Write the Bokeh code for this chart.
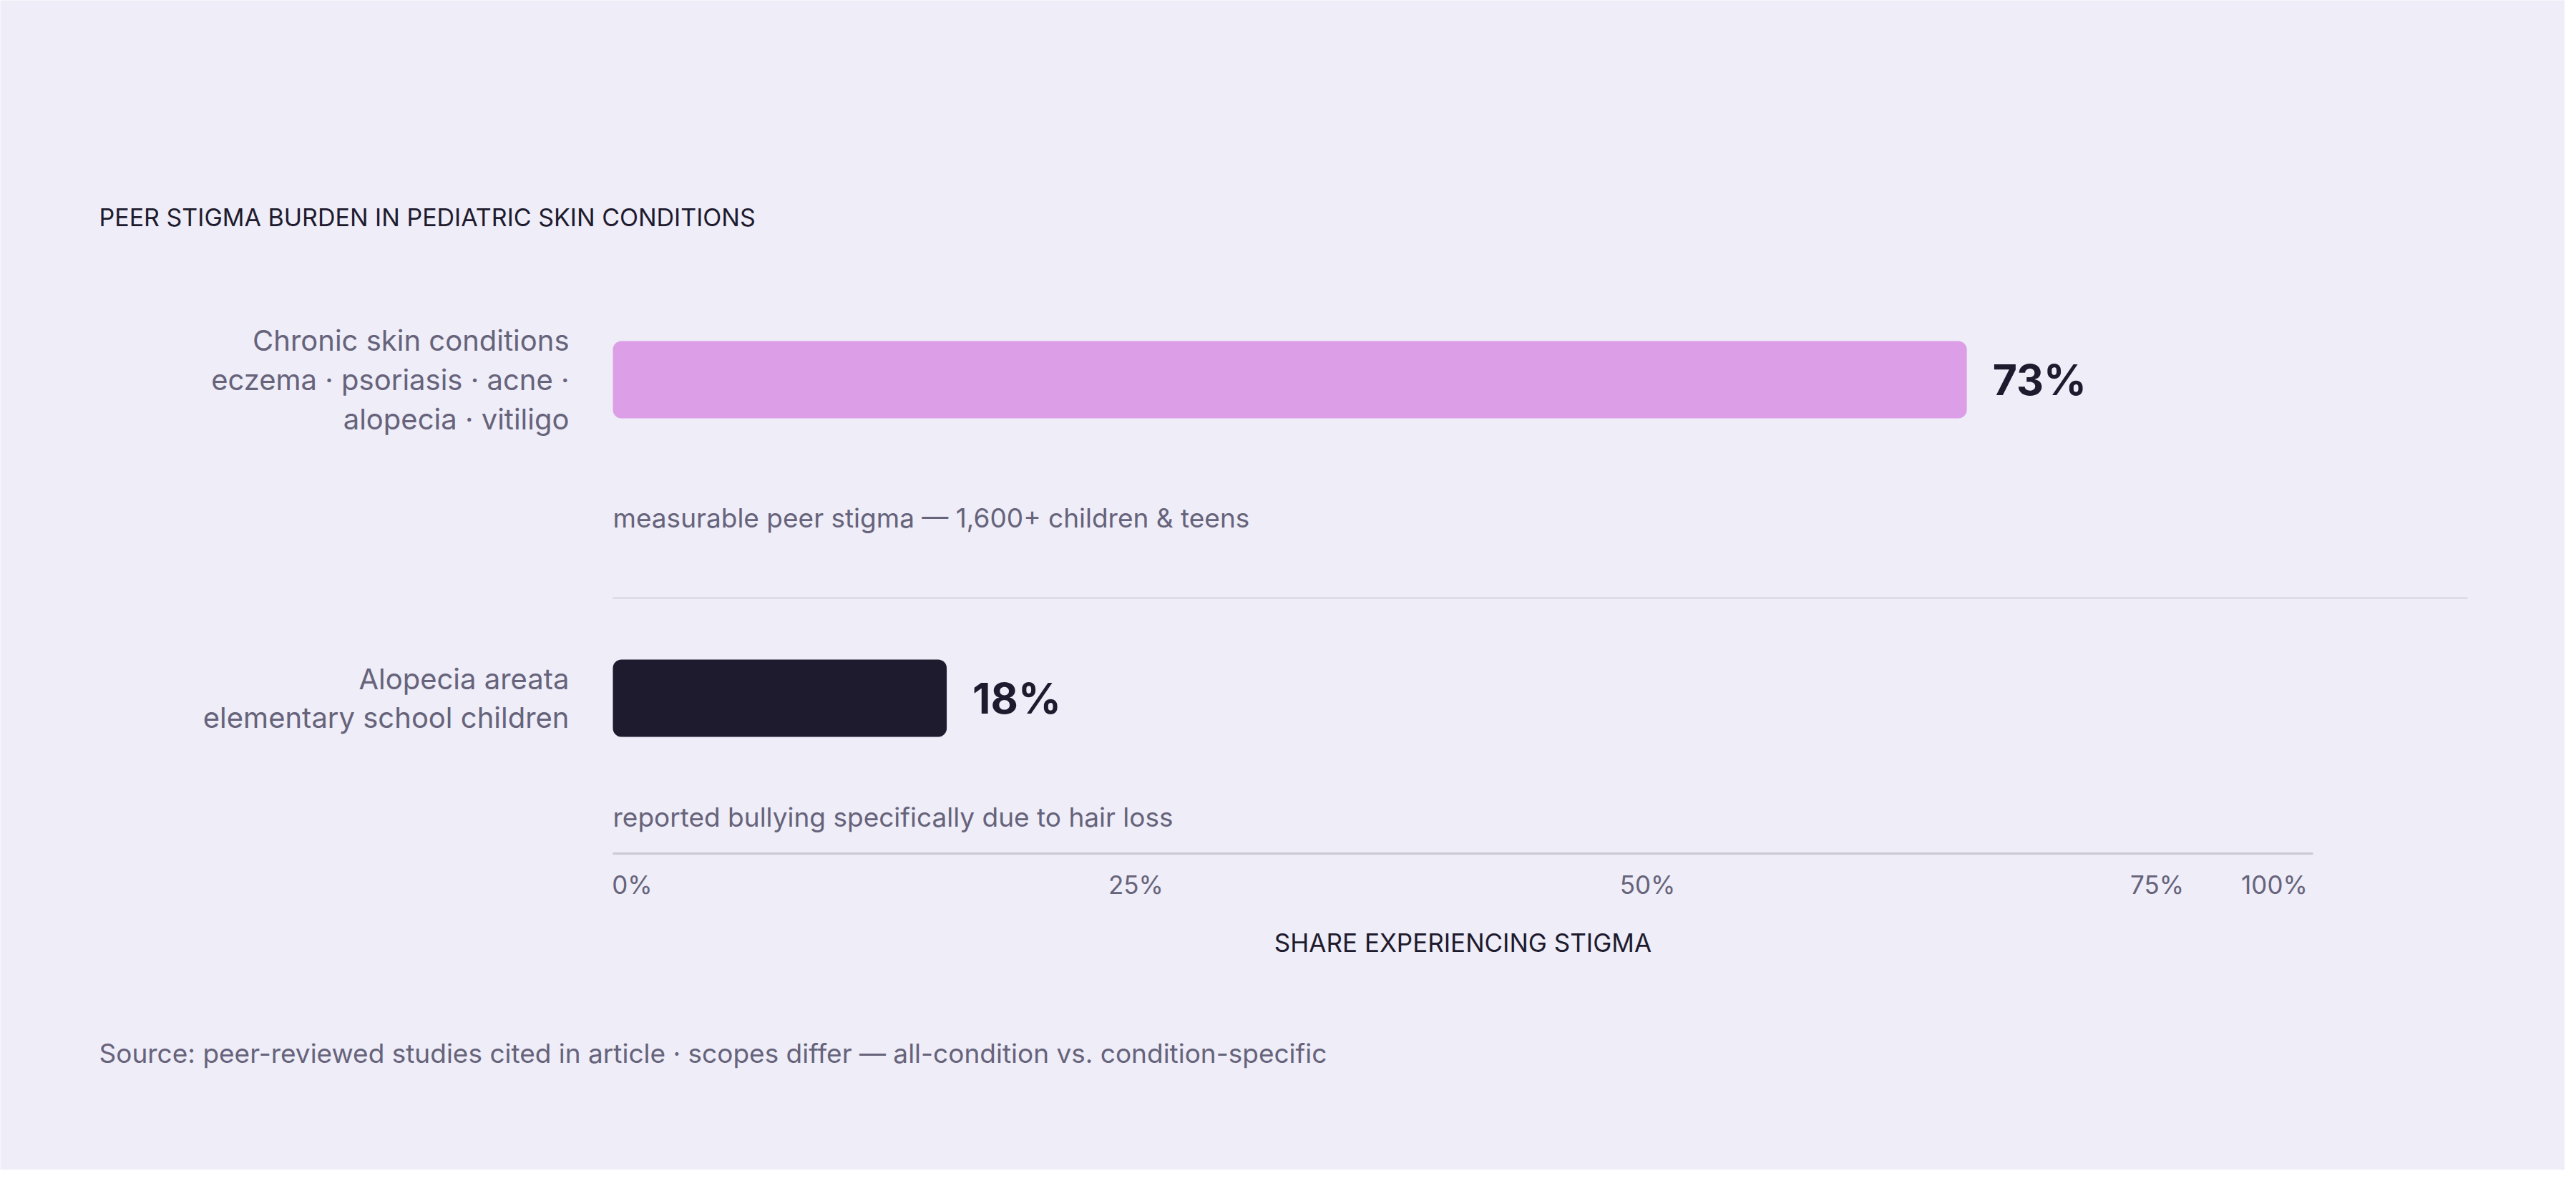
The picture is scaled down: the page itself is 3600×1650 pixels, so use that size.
from bokeh.plotting import figure
from bokeh.models import Range1d, LinearAxis, FixedTicker
from bokeh.core.properties import value
from bokeh.embed import file_html
from bokeh.resources import INLINE

# ---------------- data ----------------
chart_title = "PEER STIGMA BURDEN IN PEDIATRIC SKIN CONDITIONS"
categories = [
    "Chronic skin conditions\neczema · psoriasis · acne ·\nalopecia · vitiligo",
    "Alopecia areata\nelementary school children",
]
values = [73, 18]
value_labels = ["73%", "18%"]
notes = [
    "measurable peer stigma — 1,600+ children & teens",
    "reported bullying specifically due to hair loss",
]
bar_colors = ["#DD9EE8", "#1E1B2E"]
tick_labels = ["0%", "25%", "50%", "75%", "100%"]
axis_title = "SHARE EXPERIENCING STIGMA"
source_note = ("Source: peer-reviewed studies cited in article · scopes differ — "
               "all-condition vs. condition-specific")

# ---------------- style / layout ----------------
BG = "#EEEDF8"
DARK = "#1E1B2E"
GREY = "#66637A"
RULE = "#D6D3E0"
AXIS = "#CBC8D4"
FONT_NAME = "Inter"
FONT = value(FONT_NAME)

W, H = 3584, 1634
M = 8
X0 = 864.0          # page px where 0 % sits
PX = 25.92          # page px per percentage point


def X(px):
    return (px - X0) / PX


row_y = [538, 983]
note_y = [731, 1149]
bar_h = 108

p = figure(width=W, height=H,
           x_range=Range1d(X(M), X(M + W)), y_range=Range1d(M + H, M),
           output_backend="svg", toolbar_location=None, min_border=0,
           x_axis_location=None, y_axis_location=None,
           background_fill_color=BG, border_fill_color=BG,
           outline_line_color=None)
p.grid.visible = False
p.extra_x_ranges = {"px": Range1d(M, M + W)}

# bars
p.hbar(y=row_y, left=0, right=values, height=bar_h, color=bar_colors,
       line_color=None, border_radius=12)

# value labels
p.text(x=[v + 36 / PX for v in values], y=row_y, text=value_labels,
       text_align="left", text_baseline="middle", text_font=FONT,
       text_font_size="59px", text_font_style="bold", text_color=DARK)

# category labels
p.text(x=[X(803)] * len(categories), y=row_y, text=categories,
       text_align="right", text_baseline="middle", text_font=FONT,
       text_font_size="40px", text_line_height=1.115, text_color=GREY)

# notes under the bars
p.text(x=[0] * len(notes), y=note_y, text=notes, text_align="left",
       text_baseline="middle", text_font=FONT, text_font_size="37px",
       text_color=GREY)

# separator between the rows
p.segment(x0=[0], x1=[100], y0=[843], y1=[843], line_color=RULE, line_width=2)

# title and source
p.text(x=[X(146)], y=[311], text=[chart_title], text_align="left",
       text_baseline="middle", text_font=FONT, text_font_size="34px",
       text_color=DARK)
p.text(x=[X(146)], y=[1479], text=[source_note], text_align="left",
       text_baseline="middle", text_font=FONT, text_font_size="37px",
       text_color=GREY)

# x axis
tick_px = [891, 1595, 2310, 3022, 3186]
ax = LinearAxis(x_range_name="px", fixed_location=1200, bounds=(864, 3240),
                ticker=FixedTicker(ticks=tick_px),
                major_label_overrides={t: l for t, l in zip(tick_px, tick_labels)},
                axis_line_color=AXIS, axis_line_width=3,
                major_tick_line_color=None, minor_tick_line_color=None,
                major_tick_in=0, major_tick_out=0,
                major_label_standoff=22,
                major_label_text_font=FONT_NAME, major_label_text_font_size="35px",
                major_label_text_color=GREY,
                axis_label=axis_title, axis_label_standoff=36,
                axis_label_text_font=FONT_NAME, axis_label_text_font_size="35px",
                axis_label_text_font_style="normal", axis_label_text_color=DARK)
p.add_layout(ax, "below")

open("out.html", "w").write(file_html(p, INLINE))
